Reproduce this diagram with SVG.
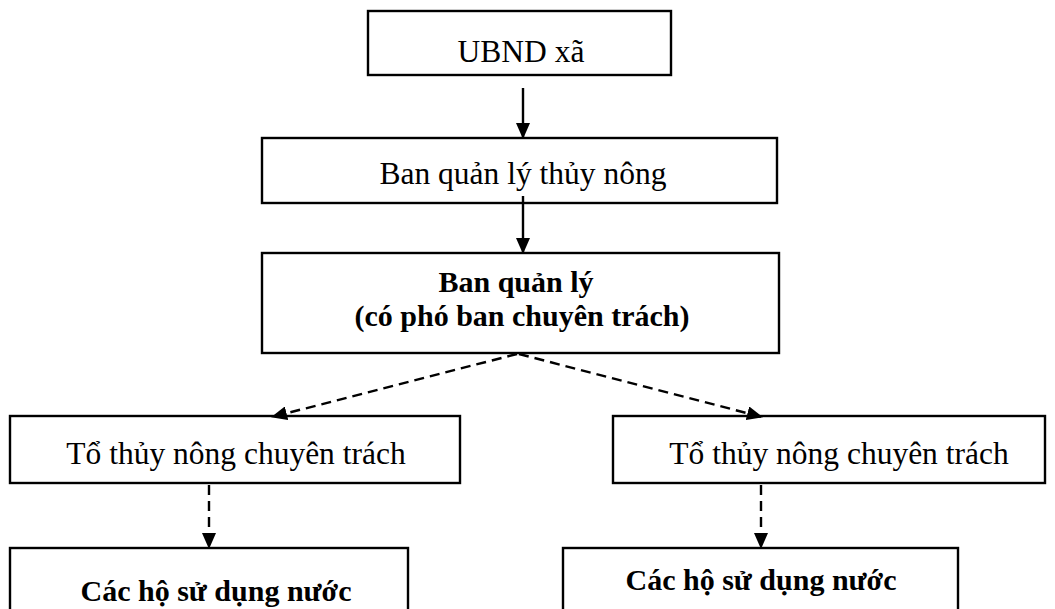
<svg xmlns="http://www.w3.org/2000/svg" width="1055" height="609" viewBox="0 0 1055 609">
<defs>
<marker id="ah" markerWidth="16" markerHeight="14" refX="15" refY="7" orient="auto" markerUnits="userSpaceOnUse">
<path d="M0,0 L16,7 L0,14 Z" fill="#000"/>
</marker>
<style>
.box{fill:#fff;stroke:#000;stroke-width:2.4}
.t{font-family:"Liberation Serif","Times New Roman",serif;font-size:31.5px;fill:#000;text-anchor:middle}
.b{font-weight:bold;font-size:30px}
.solid{stroke:#000;stroke-width:2.4;fill:none}
.dash{stroke:#000;stroke-width:2.4;fill:none;stroke-dasharray:10 6}
</style>
</defs>
<rect width="1055" height="609" fill="#fff"/>
<g id="n1"><rect class="box" x="368" y="11" width="303" height="64"/><text class="t" x="521" y="62">UBND xã</text></g>
<g id="n2"><rect class="box" x="262" y="138" width="515" height="65"/><text class="t" x="523" y="184">Ban quản lý thủy nông</text></g>
<g id="n3"><rect class="box" x="262" y="253" width="517" height="100"/><text class="t b" x="516" y="292">Ban quản lý</text><text class="t b" x="522" y="326">(có phó ban chuyên trách)</text></g>
<g id="n4"><rect class="box" x="10" y="416" width="450" height="67"/><text class="t" x="236" y="464">Tổ thủy nông chuyên trách</text></g>
<g id="n5"><rect class="box" x="613" y="416" width="432" height="67"/><text class="t" x="839" y="464">Tổ thủy nông chuyên trách</text></g>
<g id="n6"><rect class="box" x="10" y="548" width="398" height="70"/><text class="t b" x="216" y="601">Các hộ sử dụng nước</text></g>
<g id="n7"><rect class="box" x="563" y="548" width="395" height="70"/><text class="t b" x="761" y="590">Các hộ sử dụng nước</text></g>
<g id="connectors">
<line class="solid" x1="523" y1="88" x2="523" y2="138" marker-end="url(#ah)"/>
<line class="solid" x1="523" y1="196" x2="523" y2="253" marker-end="url(#ah)"/>
<line class="dash" x1="517" y1="354" x2="272" y2="417" marker-end="url(#ah)"/>
<line class="dash" x1="519" y1="354" x2="762" y2="417" marker-end="url(#ah)"/>
<line class="dash" x1="209" y1="485" x2="209" y2="548" marker-end="url(#ah)"/>
<line class="dash" x1="761" y1="485" x2="761" y2="548" marker-end="url(#ah)"/>
</g>
</svg>
